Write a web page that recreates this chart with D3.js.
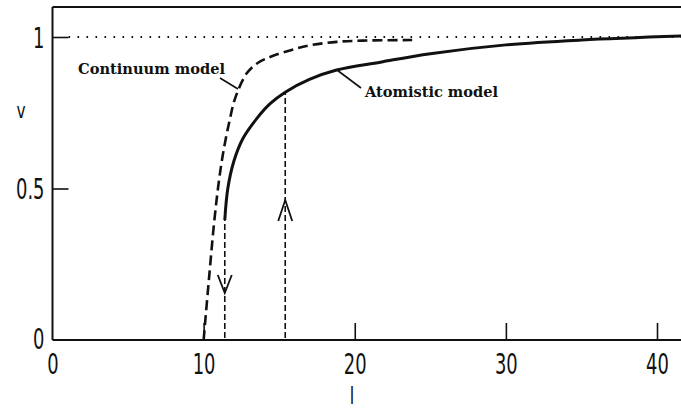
<!DOCTYPE html>
<html><head><meta charset="utf-8">
<script src="https://cdn.jsdelivr.net/npm/d3@7"></script>
<style>body{margin:0;background:#fff}svg{display:block}</style>
</head><body>
<svg id="c" width="681" height="410"></svg>
<script>
// ---- data ----
const xTicks = [0, 10, 20, 30, 40];
const yTicks = [0, 0.5, 1];
const yTickLabels = ["0", "0.5", "1"];
const atomL = [11.4, 11.6, 12.0, 12.6, 13.5, 14.4, 15.4, 17.0, 18.8, 21.7, 25.0, 30.0, 35.0, 41.6];
const atomV = [0.396, 0.50, 0.59, 0.665, 0.73, 0.78, 0.818, 0.86, 0.891, 0.917, 0.945, 0.974, 0.99, 1.003];
const contL = [10.0, 10.35, 10.7, 11.0, 11.3, 11.7, 12.1, 12.85, 13.6, 14.6, 16.0, 17.2, 18.8, 20.5, 23.8];
const contV = [0.0, 0.2, 0.39, 0.52, 0.62, 0.72, 0.80, 0.88, 0.915, 0.938, 0.96, 0.974, 0.984, 0.988, 0.99];
const downArrowL = 11.4;   // thin dashed line going down, from atomistic curve start
const upArrowL = 15.4;     // thin dashed line going up to atomistic curve
const upArrowV = 0.818;
const downArrowV = 0.396;
const contLabel = "Continuum model";
const atomLabel = "Atomistic model";

const svg = d3.select("#c");
const x = d3.scaleLinear().domain([0, 40]).range([52.5, 657]);
const y = d3.scaleLinear().domain([0, 1]).range([340, 37]);
const ink = "#111";
const sx = 0.64;

// frame: top line
svg.append("line").attr("x1", x(0)).attr("x2", 681).attr("y1", 7).attr("y2", 7)
  .attr("stroke", ink).attr("stroke-width", 2);

// x axis
const gx = svg.append("g").attr("transform", `translate(0,${y(0)})`)
  .call(d3.axisBottom(x).tickValues(xTicks).tickSizeInner(-17).tickSizeOuter(0).tickPadding(12));
gx.select(".domain").attr("d", `M${x(0)},0H681`).attr("stroke", ink).attr("stroke-width", 2);
gx.selectAll(".tick line").attr("stroke", ink).attr("stroke-width", 1.6)
  .filter(d => d === 0).remove();
gx.selectAll(".tick text").attr("y", 14).attr("dy", "0.72em");

// y axis
const gy = svg.append("g").attr("transform", `translate(${x(0)},0)`)
  .call(d3.axisLeft(y).tickValues(yTicks).tickFormat((d, i) => yTickLabels[i])
    .tickSizeInner(-16).tickSizeOuter(0));
gy.select(".domain").attr("d", `M0,${y(0)}V7`).attr("stroke", ink).attr("stroke-width", 2);
gy.selectAll(".tick line").attr("stroke", ink).attr("stroke-width", 1.6)
  .filter(d => d === 0).remove();
gy.selectAll(".tick text").attr("x", -8 / sx).attr("dy", "0.36em");
gy.selectAll(".tick").filter(d => d === 0).select("text").attr("dy", "0.3em");

svg.selectAll(".tick text").attr("font-family", "DejaVu Sans").attr("font-size", 28)
  .attr("font-weight", "normal").attr("fill", ink).attr("transform", `scale(${sx},1)`);

// axis titles
svg.append("text").attr("transform", `translate(21,118) scale(0.7,1)`)
  .attr("text-anchor", "middle").attr("font-family", "DejaVu Sans").attr("font-size", 22)
  .attr("fill", ink).text("v");
svg.append("text").attr("transform", `translate(352,404) scale(0.7,1)`)
  .attr("text-anchor", "middle").attr("font-family", "DejaVu Sans").attr("font-size", 23)
  .attr("fill", ink).text("l");

// dotted asymptote v = 1
svg.append("line").attr("x1", x(0) + 16).attr("x2", 681).attr("y1", y(1)).attr("y2", y(1))
  .attr("stroke", ink).attr("stroke-width", 1.8).attr("stroke-dasharray", "1.6 7.4");

const line = d3.line().x(d => x(d[0])).y(d => y(d[1])).curve(d3.curveCatmullRom.alpha(0.5));

// continuum model (dashed)
svg.append("path").datum(d3.zip(contL, contV)).attr("d", line)
  .attr("fill", "none").attr("stroke", ink).attr("stroke-width", 2.6)
  .attr("stroke-dasharray", "10 5");

// atomistic model (solid)
svg.append("path").datum(d3.zip(atomL, atomV)).attr("d", line)
  .attr("fill", "none").attr("stroke", ink).attr("stroke-width", 3);

// thin dashed verticals with arrows
function vline(l, v) {
  svg.append("line").attr("x1", x(l)).attr("x2", x(l)).attr("y1", y(0) - 2).attr("y2", y(v))
    .attr("stroke", ink).attr("stroke-width", 1.6).attr("stroke-dasharray", "6 3");
}
vline(downArrowL, downArrowV);
vline(upArrowL, upArrowV);
// down arrow head (V)
const dx = x(downArrowL), dTip = 293;
svg.append("path").attr("d", `M${dx - 7},${dTip - 18}L${dx},${dTip}L${dx + 7},${dTip - 18}`)
  .attr("fill", "none").attr("stroke", ink).attr("stroke-width", 1.8);
// up arrow head (^)
const ux = x(upArrowL), uTip = 200;
svg.append("path").attr("d", `M${ux - 7},${uTip + 21}L${ux},${uTip}L${ux + 7},${uTip + 21}`)
  .attr("fill", "none").attr("stroke", ink).attr("stroke-width", 1.8);

// labels with leader lines
svg.append("text").attr("x", 78).attr("y", 74).attr("font-family", "DejaVu Serif")
  .attr("font-weight", "bold").attr("font-size", 15.5).attr("fill", ink)
  .attr("textLength", 147).attr("lengthAdjust", "spacingAndGlyphs").text(contLabel);
svg.append("line").attr("x1", 220).attr("y1", 78).attr("x2", 238).attr("y2", 89)
  .attr("stroke", ink).attr("stroke-width", 1.6);

svg.append("text").attr("x", 365).attr("y", 97).attr("font-family", "DejaVu Serif")
  .attr("font-weight", "bold").attr("font-size", 15.5).attr("fill", ink)
  .attr("textLength", 133).attr("lengthAdjust", "spacingAndGlyphs").text(atomLabel);
svg.append("line").attr("x1", 337).attr("y1", 70).attr("x2", 361).attr("y2", 88)
  .attr("stroke", ink).attr("stroke-width", 1.6);
</script>
</body></html>
